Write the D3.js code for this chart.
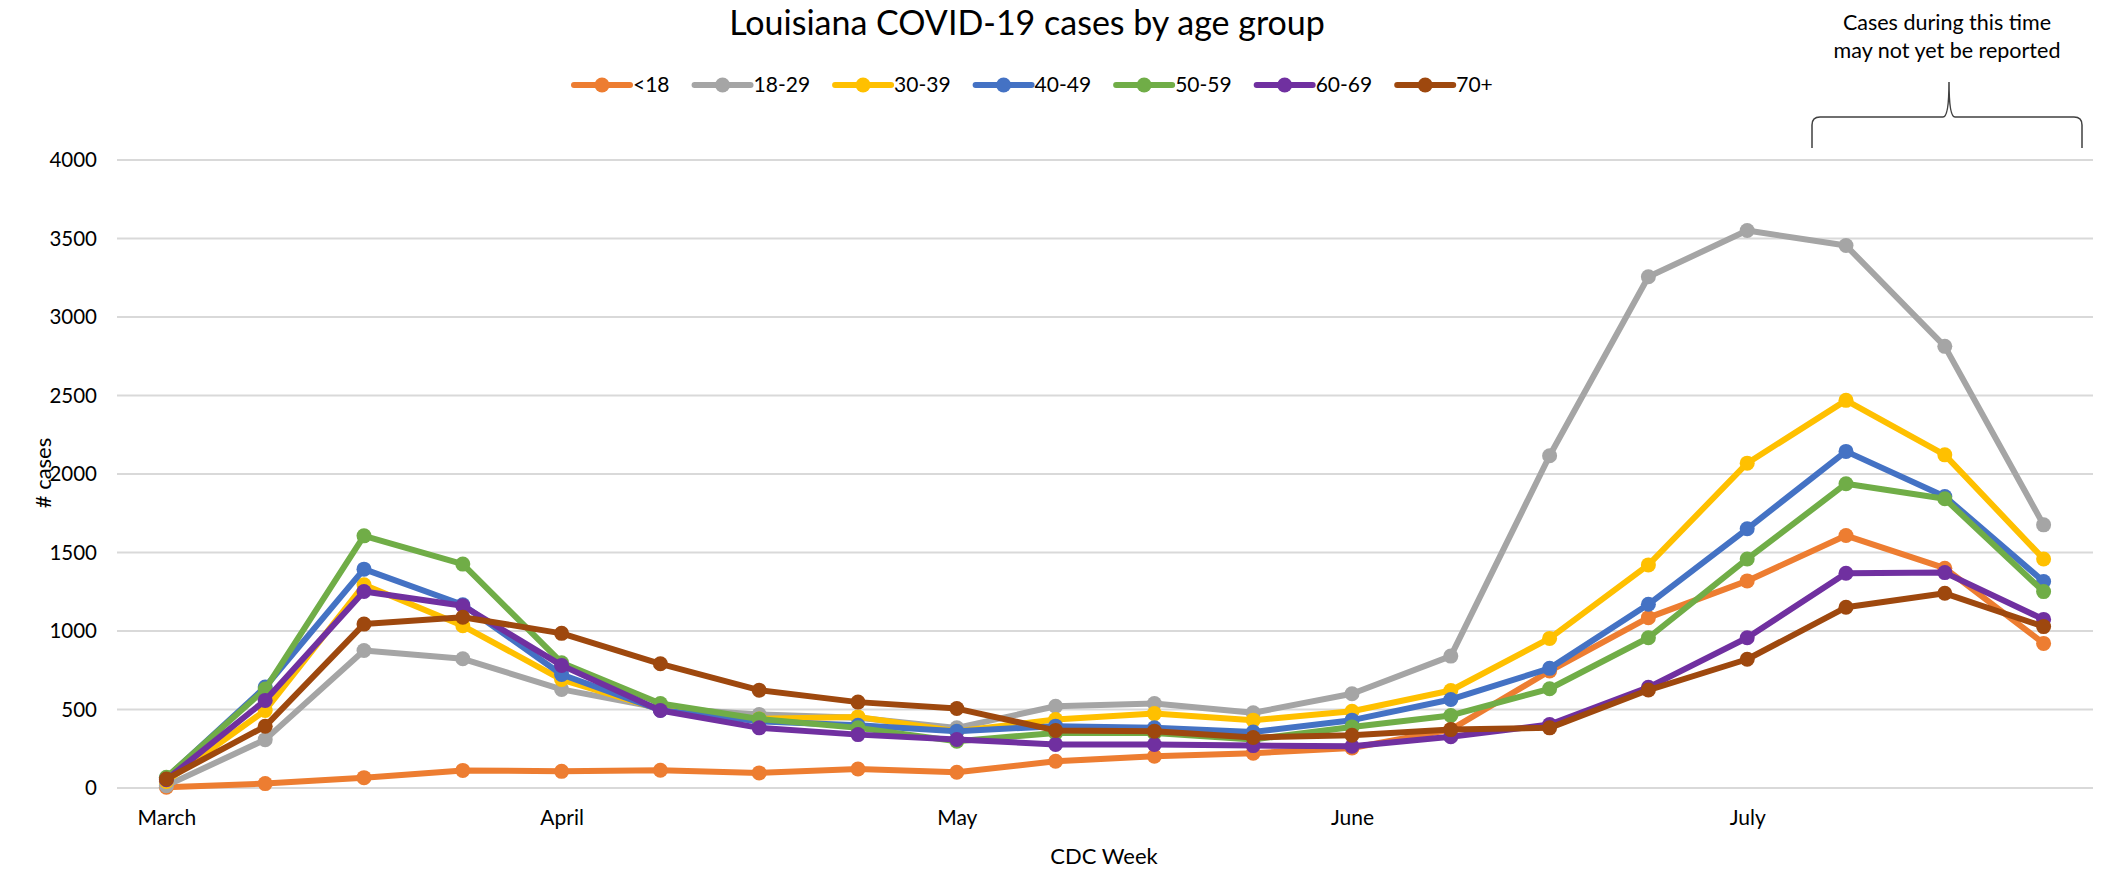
<!DOCTYPE html>
<html>
<head>
<meta charset="utf-8">
<script src="https://cdn.jsdelivr.net/npm/d3@7"></script>
<style>
    body { margin: 0; background: #fff; }
    text { font-family: Lato, "Open Sans", sans-serif; fill: #000; }
</style>
</head>
<body>
<div id="chart"></div>
<script>
(function() {
    // weekly categories, only the first week of each month gets a label
    var weekLabels = ["March", "", "", "", "April", "", "", "", "May", "", "", "",
        "June", "", "", "", "July", "", "", ""];

    var yTicks = [0, 500, 1000, 1500, 2000, 2500, 3000, 3500, 4000];

    var groups = ["<18", "18-29", "30-39", "40-49", "50-59", "60-69", "70+"];
    var colors = ["#ED7D31", "#A5A5A5", "#FFC000", "#4472C4", "#70AD47", "#7030A0", "#9E480E"];

    var under18 = [5, 28, 66, 112, 106, 113, 96, 121, 100, 170, 202, 222, 255, 372, 745, 1085, 1319, 1608, 1400, 921];
    var age18to29 = [15, 308, 876, 823, 628, 510, 468, 447, 383, 521, 538, 479, 600, 840, 2116, 3256, 3551, 3455, 2813, 1676];
    var age30to39 = [42, 494, 1294, 1033, 691, 500, 440, 453, 362, 436, 474, 432, 489, 621, 953, 1421, 2069, 2469, 2122, 1459];
    var age40to49 = [64, 643, 1394, 1167, 723, 496, 425, 400, 362, 394, 383, 357, 432, 564, 762, 1170, 1651, 2144, 1857, 1315];
    var age50to59 = [68, 630, 1606, 1426, 798, 538, 440, 383, 298, 351, 351, 309, 389, 462, 632, 957, 1459, 1938, 1842, 1251];
    var age60to69 = [53, 558, 1252, 1161, 781, 494, 383, 340, 309, 277, 277, 270, 266, 326, 404, 641, 957, 1368, 1372, 1074];
    var age70plus = [57, 393, 1044, 1088, 985, 791, 623, 547, 506, 367, 362, 322, 336, 372, 383, 624, 820, 1151, 1240, 1028];

    var seriesValues = [under18, age18to29, age30to39, age40to49, age50to59, age60to69, age70plus];

    var width = 2105,
        height = 870;

    var plotLeft = 117,
        plotRight = 2093,
        plotTop = 160,
        plotBottom = 788;

    var svg = d3.select("#chart")
        .append("svg")
        .attr("width", width)
        .attr("height", height);

    var x = d3.scalePoint()
        .domain(d3.range(weekLabels.length))
        .range([plotLeft, plotRight])
        .padding(0.5);

    var y = d3.scaleLinear()
        .domain([0, 4000])
        .range([plotBottom, plotTop]);

    // gridlines
    svg.append("g")
        .selectAll("line")
        .data(yTicks)
        .enter().append("line")
        .attr("x1", plotLeft)
        .attr("x2", plotRight)
        .attr("y1", function(d) { return y(d); })
        .attr("y2", function(d) { return y(d); })
        .attr("stroke", "#D9D9D9")
        .attr("stroke-width", 2);

    // y axis labels
    var yAxis = svg.append("g")
        .attr("transform", "translate(" + (plotLeft - 20) + ",0)")
        .call(d3.axisLeft(y).tickValues(yTicks).tickSize(0).tickPadding(0)
            .tickFormat(d3.format("d")));
    yAxis.select(".domain").remove();
    yAxis.selectAll("text")
        .style("font-size", "20.5px")
        .style("font-family", "Lato, sans-serif")
        .attr("fill", "#000");

    // x axis labels
    var xAxis = svg.append("g")
        .attr("transform", "translate(0," + plotBottom + ")")
        .call(d3.axisBottom(x).tickSize(0).tickPadding(22)
            .tickFormat(function(i) { return weekLabels[i]; }));
    xAxis.select(".domain").remove();
    xAxis.selectAll("text")
        .style("font-size", "21px")
        .style("font-family", "Lato, sans-serif")
        .attr("fill", "#000");

    // axis titles
    svg.append("text")
        .attr("x", 1104)
        .attr("y", 864)
        .attr("text-anchor", "middle")
        .style("font-size", "22px")
        .text("CDC Week");

    svg.append("text")
        .attr("transform", "translate(51,473) rotate(-90)")
        .attr("text-anchor", "middle")
        .style("font-size", "22px")
        .text("# cases");

    // title
    svg.append("text")
        .attr("x", 1027)
        .attr("y", 35)
        .attr("text-anchor", "middle")
        .style("font-size", "34px")
        .text("Louisiana COVID-19 cases by age group");

    // lines + markers, in series order so 70+ ends up on top
    var line = d3.line()
        .x(function(d, i) { return x(i); })
        .y(function(d) { return y(d); });

    seriesValues.forEach(function(vals, s) {
        var g = svg.append("g");
        g.append("path")
            .datum(vals)
            .attr("d", line)
            .attr("fill", "none")
            .attr("stroke", colors[s])
            .attr("stroke-width", 6)
            .attr("stroke-linejoin", "round");
        g.selectAll("circle")
            .data(vals)
            .enter().append("circle")
            .attr("cx", function(d, i) { return x(i); })
            .attr("cy", function(d) { return y(d); })
            .attr("r", 7.5)
            .attr("fill", colors[s]);
    });

    // legend
    var legend = svg.append("g");
    var lx = 0;
    groups.forEach(function(name, s) {
        var item = legend.append("g").attr("transform", "translate(" + lx + ",0)");
        item.append("line")
            .attr("x1", 0).attr("x2", 56)
            .attr("y1", 0).attr("y2", 0)
            .attr("stroke", colors[s])
            .attr("stroke-width", 6)
            .attr("stroke-linecap", "round");
        item.append("circle")
            .attr("cx", 28).attr("cy", 0)
            .attr("r", 7.5)
            .attr("fill", colors[s]);
        var t = item.append("text")
            .attr("x", 59)
            .attr("y", 7)
            .style("font-size", "21px")
            .text(name);
        lx += 59 + t.node().getComputedTextLength() + 25;
    });
    legend.attr("transform", "translate(574,85)");

    // bracket + note over the last weeks
    var bx1 = 1812, bx2 = 2082, bmid = 1949;
    var bTop = 117, bBot = 148, peak = 82;
    var brace = d3.path();
    brace.moveTo(bx1, bBot);
    brace.lineTo(bx1, bTop + 8);
    brace.quadraticCurveTo(bx1, bTop, bx1 + 8, bTop);
    brace.lineTo(bmid - 6, bTop);
    brace.quadraticCurveTo(bmid, bTop, bmid, peak);
    brace.quadraticCurveTo(bmid, bTop, bmid + 6, bTop);
    brace.lineTo(bx2 - 8, bTop);
    brace.quadraticCurveTo(bx2, bTop, bx2, bTop + 8);
    brace.lineTo(bx2, bBot);
    svg.append("path")
        .attr("d", brace.toString())
        .attr("fill", "none")
        .attr("stroke", "#404040")
        .attr("stroke-width", 1.5);

    svg.append("text")
        .attr("x", 1947)
        .attr("y", 30)
        .attr("text-anchor", "middle")
        .style("font-size", "21.5px")
        .attr("fill", "#222")
        .text("Cases during this time");
    svg.append("text")
        .attr("x", 1947)
        .attr("y", 58)
        .attr("text-anchor", "middle")
        .style("font-size", "21.5px")
        .attr("fill", "#222")
        .text("may not yet be reported");
})();
</script>
</body>
</html>
